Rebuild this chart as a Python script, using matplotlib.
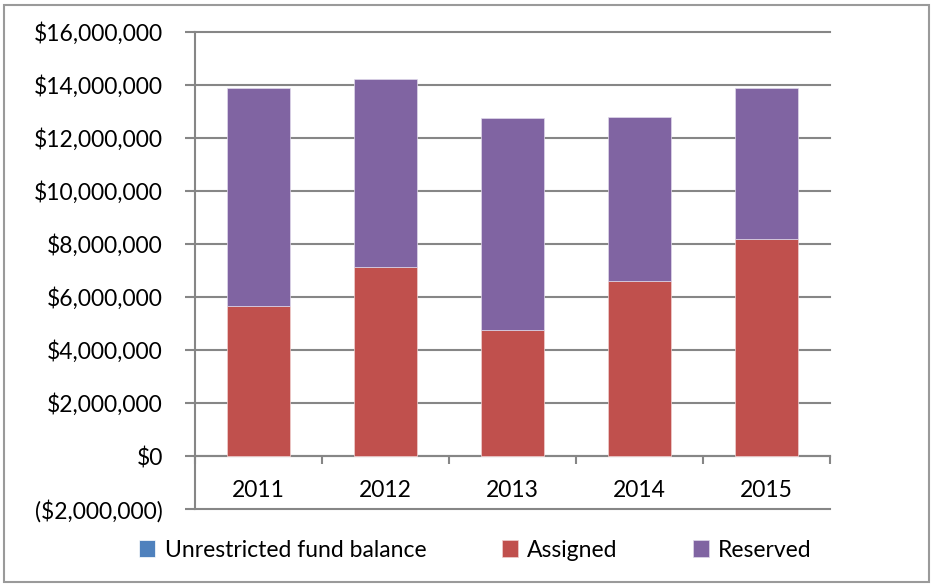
import numpy as np
import matplotlib.pyplot as plt
from matplotlib.patches import Rectangle

plt.rcParams['font.family'] = ['Lato', 'DejaVu Sans']

years = ['2011', '2012', '2013', '2014', '2015']
unrestricted = [0, 0, 0, 0, 0]
assigned = [5670000, 7130000, 4750000, 6600000, 8200000]
reserved = [8210000, 7100000, 8020000, 6190000, 5690000]

y_ticks = np.arange(-2000000, 16000001, 2000000)

def money(v):
    if v < 0:
        return '(${:,.0f})'.format(-v)
    return '${:,.0f}'.format(v)

fig = plt.figure(figsize=(9.37, 5.88), dpi=100)
fig.patches.append(Rectangle((4 / 937, 1 - 582 / 588), 925 / 937, 577 / 588,
                             transform=fig.transFigure, fill=False,
                             edgecolor='#9a9a9a', linewidth=1.5))
ax = fig.add_axes([195 / 937, 1 - 509 / 588, 635 / 937, 477 / 588])

x = np.arange(len(years))
gray = '#868686'
fs = 16.5
ax.bar(x, unrestricted, 0.5, color='#4F81BD', label='Unrestricted fund balance',
       edgecolor='white', linewidth=0.5, zorder=3)
ax.bar(x, assigned, 0.5, bottom=unrestricted, color='#C0504D', label='Assigned',
       edgecolor='#f0d0d0', linewidth=0.5, zorder=3)
ax.bar(x, reserved, 0.5, bottom=np.array(unrestricted) + np.array(assigned),
       color='#8064A2', label='Reserved', edgecolor='#e0d8ea', linewidth=0.5, zorder=3)

ax.set_xlim(-0.5, len(years) - 0.5)
ax.set_ylim(-2000000, 16000000)
ax.set_yticks(y_ticks)
ax.set_yticklabels([money(v) for v in y_ticks], fontsize=fs)
ax.tick_params(axis='y', length=7, width=1.5, color=gray, pad=16)
ax.yaxis.grid(True, color=gray, linewidth=1.5, zorder=0)
for gl in ax.get_ygridlines():
    gl.set_clip_on(False)

for s in ['top', 'right']:
    ax.spines[s].set_visible(False)
ax.spines['left'].set_color(gray)
ax.spines['left'].set_linewidth(1.5)
ax.spines['bottom'].set_position(('data', 0))
ax.spines['bottom'].set_color(gray)
ax.spines['bottom'].set_linewidth(1.5)

ax.set_xticks(np.arange(-0.5, len(years), 1.0))
ax.set_xticklabels([])
ax.tick_params(axis='x', which='major', length=6, width=1.5, color=gray)
ax.set_xticks(x, minor=True)
ax.set_xticklabels(years, minor=True, fontsize=fs)
ax.tick_params(axis='x', which='minor', length=0, pad=17)

ax.legend(loc='center', bbox_to_anchor=(0.442, -0.086), ncol=3, frameon=False,
          fontsize=fs, handlelength=0.7, handleheight=0.7, handletextpad=0.4,
          columnspacing=3.3)

fig.savefig('out.png', dpi=100)
